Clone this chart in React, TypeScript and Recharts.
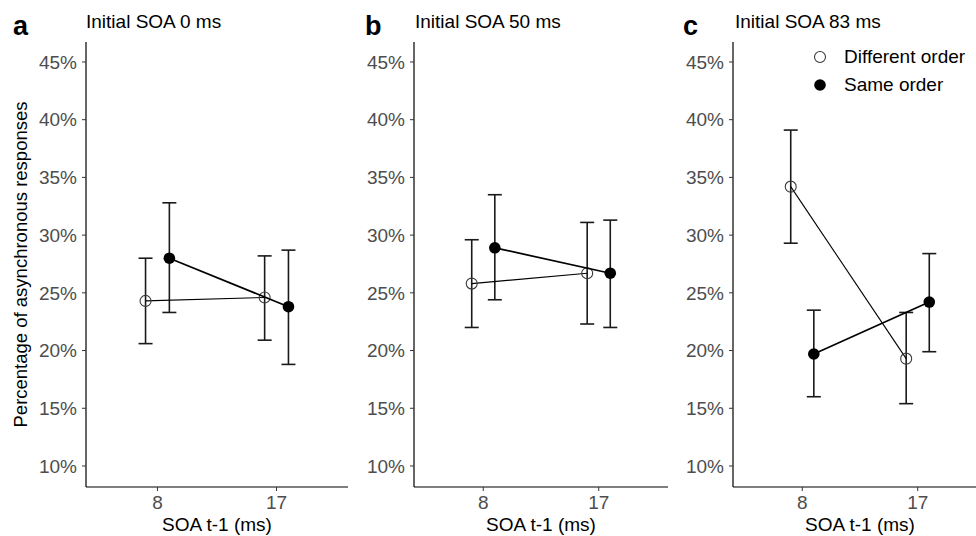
import React from "react"
import { ScatterChart, Scatter, XAxis, YAxis, ErrorBar } from "recharts"

// SOA t-1 levels on the x axis
const soaLevels = ["8", "17"]
const yTicks = [10, 15, 20, 25, 30, 35, 40, 45]
const panelLetters = ["a", "b", "c"]
const panelTitles = ["Initial SOA 0 ms", "Initial SOA 50 ms", "Initial SOA 83 ms"]
const legendLabels = ["Different order", "Same order"]

// percentages, one pair (8, 17) per panel
const differentMean = [[24.3, 24.6], [25.8, 26.7], [34.2, 19.3]]
const differentLow = [[20.6, 20.9], [22.0, 22.3], [29.3, 15.4]]
const differentHigh = [[28.0, 28.2], [29.6, 31.1], [39.1, 23.3]]
const sameMean = [[28.0, 23.8], [28.9, 26.7], [19.7, 24.2]]
const sameLow = [[23.3, 18.8], [24.4, 22.0], [16.0, 19.9]]
const sameHigh = [[32.8, 28.7], [33.5, 31.3], [23.5, 28.4]]

const FONT = 'Arial, "Liberation Sans", Helvetica, sans-serif'
const FS = 19
const DODGE = 0.1

// where each panel sits on the page
const panels = [
  { left: 0, axisWidth: 86, plotWidth: 262 },
  { left: 348, axisWidth: 66, plotWidth: 254 },
  { left: 668, axisWidth: 65, plotWidth: 254 },
]

function buildRows(mean: number[], low: number[], high: number[], shift: number) {
  return mean.map((m, i) => ({
    x: i + 1 + shift,
    y: m,
    err: [m - low[i], high[i] - m],
  }))
}

const OpenDot = (p: any) => (
  <circle cx={p.cx} cy={p.cy} r={5.5} fill="none" stroke="#3a3a3a" strokeWidth={1.1} />
)
const FilledDot = (p: any) => <circle cx={p.cx} cy={p.cy} r={5.8} fill="#000" />

function LegendBox() {
  return (
    <div style={{ position: "absolute", left: 812, top: 43, fontFamily: FONT, fontSize: FS, color: "#000" }}>
      {legendLabels.map((label, i) => (
        <div key={label} style={{ display: "flex", alignItems: "center", height: 28 }}>
          <svg width={16} height={16}>
            {i === 0 ? (
              <circle cx={8} cy={8} r={5.5} fill="none" stroke="#3a3a3a" strokeWidth={1.1} />
            ) : (
              <circle cx={8} cy={8} r={5.8} fill="#000" />
            )}
          </svg>
          <span style={{ marginLeft: 16, whiteSpace: "nowrap" }}>{label}</span>
        </div>
      ))}
    </div>
  )
}

function Panel({ index }: { index: number }) {
  const { left, axisWidth, plotWidth } = panels[index]
  const different = buildRows(differentMean[index], differentLow[index], differentHigh[index], -DODGE)
  const same = buildRows(sameMean[index], sameLow[index], sameHigh[index], DODGE)

  return (
    <div style={{ position: "absolute", left, top: 0 }}>
      <ScatterChart
        width={axisWidth + plotWidth}
        height={536}
        margin={{ top: 42, right: 0, bottom: 0, left: 0 }}
      >
        <XAxis
          type="number"
          dataKey="x"
          domain={[0.4, 2.6]}
          ticks={[1, 2]}
          allowDataOverflow
          tickFormatter={(v) => soaLevels[v - 1]}
          height={49}
          tickSize={4}
          tickMargin={5}
          axisLine={{ stroke: "#000", strokeWidth: 1.2 }}
          tickLine={{ stroke: "#333" }}
          tick={{ fill: "#4d4d4d", fontSize: FS, fontFamily: FONT }}
          label={{
            value: "SOA t-1 (ms)",
            position: "insideBottom",
            offset: 5,
            style: { fill: "#000", fontSize: FS, fontFamily: FONT },
          }}
        />
        <YAxis
          type="number"
          dataKey="y"
          domain={[8.18, 46.73]}
          ticks={yTicks}
          allowDataOverflow
          width={axisWidth}
          tickFormatter={(v) => `${v}%`}
          tickSize={4}
          tickMargin={5}
          axisLine={{ stroke: "#000", strokeWidth: 1.2 }}
          tickLine={{ stroke: "#333" }}
          tick={{ fill: "#4d4d4d", fontSize: FS, fontFamily: FONT }}
          label={
            index === 0
              ? {
                  value: "Percentage of asynchronous responses",
                  angle: -90,
                  position: "insideLeft",
                  offset: 20,
                  style: { textAnchor: "middle", fill: "#000", fontSize: 18.5, fontFamily: FONT },
                }
              : undefined
          }
        />
        <Scatter
          name={legendLabels[0]}
          data={different}
          shape={OpenDot}
          line={{ stroke: "#000", strokeWidth: 1.1 }}
          isAnimationActive={false}
        >
          <ErrorBar dataKey="err" direction="y" width={7} stroke="#1a1a1a" strokeWidth={1.6} isAnimationActive={false} />
        </Scatter>
        <Scatter
          name={legendLabels[1]}
          data={same}
          shape={FilledDot}
          line={{ stroke: "#000", strokeWidth: 1.7 }}
          isAnimationActive={false}
        >
          <ErrorBar dataKey="err" direction="y" width={7} stroke="#1a1a1a" strokeWidth={1.6} isAnimationActive={false} />
        </Scatter>
      </ScatterChart>
    </div>
  )
}

export default function App() {
  const letterX = [13, 365, 683]
  const titleX = [86, 415, 735]
  return (
    <div
      style={{
        position: "absolute",
        left: 0,
        top: 0,
        width: 976,
        height: 536,
        overflow: "hidden",
        background: "#fff",
        fontFamily: FONT,
      }}
    >
      {panels.map((_, i) => (
        <Panel key={i} index={i} />
      ))}
      <LegendBox />
      <svg width={976} height={50} style={{ position: "absolute", left: 0, top: 0 }}>
        {panelLetters.map((l, i) => (
          <text key={l} x={letterX[i]} y={35} fontSize={27} fontWeight="bold" fontFamily={FONT} fill="#000">
            {l}
          </text>
        ))}
        {panelTitles.map((t, i) => (
          <text key={t} x={titleX[i]} y={28} fontSize={FS} fontFamily={FONT} fill="#000">
            {t}
          </text>
        ))}
      </svg>
    </div>
  )
}
